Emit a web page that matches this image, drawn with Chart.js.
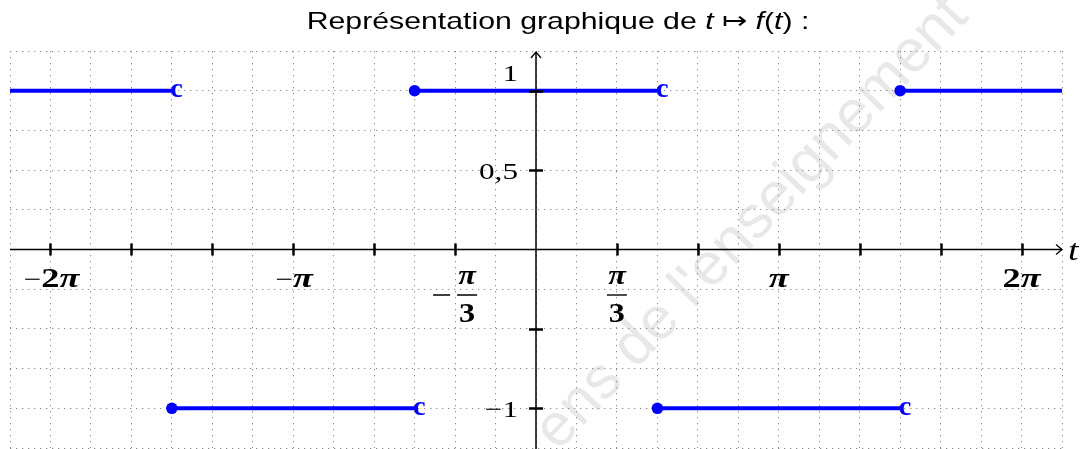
<!DOCTYPE html>
<html>
<head>
<meta charset="utf-8">
<script src="https://cdn.jsdelivr.net/npm/chart.js@4/dist/chart.umd.min.js"></script>
<style>
  html, body { margin: 0; padding: 0; background: #ffffff; }
  #wrap { width: 1083px; height: 449px; }
</style>
</head>
<body>
<div id="wrap"><canvas id="c" width="1083" height="449"></canvas></div>
<script>
const PI = Math.PI;

// ---- data (x values expressed in multiples of π) ----
const segStartPi = [-13/6, -3/2, -1/2, 1/2, 3/2];
const segEndPi   = [-3/2, -1/2, 1/2, 3/2, 13/6];
const segValue   = [1, -1, 1, -1, 1];
const startClosed = [false, true, true, true, true];
const endOpen     = [true, true, true, true, false];

// axis range / grid (multiples of π for x)
const xMinPi = -13/6, xMaxPi = 13/6, xGridStepPi = 1/6;
const yMin = -1.25, yMax = 1.25, yGridStep = 0.25;

// axis ticks
const xTickPi = [-2, -5/3, -4/3, -1, -2/3, -1/3, 1/3, 2/3, 1, 4/3, 5/3, 2];
const xLabelPi   = [-2, -1, -1/3, 1/3, 1, 2];
const xLabelText = ['−2π', '−π', '−π/3', 'π/3', 'π', '2π'];
const yTickVals  = [1, 0.5, -0.5, -1];
const yLabelVals = [1, 0.5, -1];
const yLabelText = ['1', '0,5', '−1'];

const titleRuns = [
  ['Représentation graphique de ', false], ['t', true], [' ↦ ', false],
  ['f', true], ['(', false], ['t', true], [')', false], [' :', false]
];
const watermarkText = "ens de l'enseignement";

const BLUE = '#0000ff';
const STRETCH = 1.28;
const F_REG = '24px "Liberation Serif"';
const F_BOLD = 'bold 28px "Liberation Serif"';
const F_BOLDIT = 'bold italic 28px "Liberation Serif"';

function drawRuns(ctx, runs, x, y, align, k) {
  k = k || STRETCH;
  let w = 0;
  runs.forEach(r => { ctx.font = r.f; w += ctx.measureText(r.t).width * k; });
  let sx = align === 'center' ? x - w / 2 : (align === 'right' ? x - w : x);
  ctx.textAlign = 'left';
  ctx.textBaseline = 'alphabetic';
  runs.forEach(r => {
    ctx.font = r.f;
    ctx.save();
    ctx.translate(sx, y);
    ctx.scale(k, 1);
    ctx.fillText(r.t, 0, 0);
    ctx.restore();
    sx += ctx.measureText(r.t).width * k;
  });
}

function gridTicks(min, max, step) {
  const out = [];
  const n = Math.round((max - min) / step);
  for (let k = 0; k <= n; k++) out.push({ value: min + k * step });
  return out;
}

const datasets = segValue.map((v, i) => ({
  data: [{ x: segStartPi[i] * PI, y: v }, { x: segEndPi[i] * PI, y: v }],
  borderColor: BLUE,
  backgroundColor: BLUE,
  borderWidth: 4,
  borderCapStyle: 'butt',
  pointRadius: [startClosed[i] ? 5.8 : 0, 0],
  pointHoverRadius: 0,
  pointBorderWidth: 0,
  pointBackgroundColor: BLUE,
  fill: false,
  tension: 0
}));

const deco = {
  id: 'deco',
  beforeDraw(chart) {
    const ctx = chart.ctx;
    ctx.save();
    ctx.fillStyle = '#ffffff';
    ctx.fillRect(0, 0, chart.width, chart.height);
    // watermark
    ctx.translate(558, 452);
    ctx.rotate(-46.5 * PI / 180);
    ctx.font = '60px "Liberation Sans"';
    ctx.fillStyle = '#e8e8e8';
    ctx.textAlign = 'left';
    ctx.textBaseline = 'alphabetic';
    ctx.fillText(watermarkText, 0, 0);
    ctx.restore();
  },
  afterDatasetsDraw(chart) {
    const ctx = chart.ctx;
    const xs = chart.scales.x, ys = chart.scales.y;
    const area = chart.chartArea;
    const x0 = xs.getPixelForValue(0), y0 = ys.getPixelForValue(0);
    ctx.save();

    // open endpoints "c"
    ctx.fillStyle = BLUE;
    segValue.forEach((v, i) => {
      if (!endOpen[i]) return;
      const px = xs.getPixelForValue(segEndPi[i] * PI);
      const py = ys.getPixelForValue(v);
      drawRuns(ctx, [{ t: 'c', f: 'bold 27px "Liberation Serif"' }], px - 1.5, py + 6.5, 'left', 1.05);
    });

    // axes
    ctx.strokeStyle = '#000';
    ctx.fillStyle = '#000';
    ctx.lineWidth = 1.5;
    ctx.beginPath();
    ctx.moveTo(area.left, y0); ctx.lineTo(area.right, y0);
    ctx.moveTo(x0, chart.height); ctx.lineTo(x0, area.top + 1);
    ctx.stroke();
    // arrowheads
    ctx.lineWidth = 1.3;
    ctx.beginPath();
    ctx.moveTo(area.right - 6, y0 - 5); ctx.lineTo(area.right, y0); ctx.lineTo(area.right - 6, y0 + 5);
    ctx.moveTo(x0 - 5, area.top + 7); ctx.lineTo(x0, area.top + 1); ctx.lineTo(x0 + 5, area.top + 7);
    ctx.stroke();

    // ticks
    ctx.lineWidth = 2.5;
    ctx.beginPath();
    xTickPi.forEach(k => {
      const px = Math.round(xs.getPixelForValue(k * PI)) + 0.5;
      ctx.moveTo(px, y0 - 6); ctx.lineTo(px, y0 + 6);
    });
    yTickVals.forEach(v => {
      const py = Math.round(ys.getPixelForValue(v)) + 0.5;
      ctx.moveTo(x0 - 7, py); ctx.lineTo(x0 + 7, py);
    });
    ctx.stroke();

    // x labels
    const base = y0 + 37;
    xLabelPi.forEach((k, i) => {
      const px = xs.getPixelForValue(k * PI);
      const txt = xLabelText[i];
      if (txt.indexOf('/') >= 0) {
        const neg = txt[0] === '−';
        const fx = neg ? px + 12 : px;
        drawRuns(ctx, [{ t: 'π', f: F_BOLDIT }], fx, y0 + 34, 'center', 1.15);
        ctx.lineWidth = 1.4;
        ctx.beginPath();
        ctx.moveTo(fx - 10, y0 + 45.5); ctx.lineTo(fx + 10, y0 + 45.5);
        if (neg) { ctx.moveTo(px - 22, y0 + 45.5); ctx.lineTo(px - 5, y0 + 45.5); }
        ctx.stroke();
        drawRuns(ctx, [{ t: '3', f: F_BOLD }], fx, y0 + 72, 'center', 1.15);
      } else {
        const runs = [];
        for (const ch of txt) {
          if (ch === '−') runs.push({ t: '−', f: F_REG });
          else if (ch === 'π') runs.push({ t: 'π', f: F_BOLDIT });
          else runs.push({ t: ch, f: F_BOLD });
        }
        drawRuns(ctx, runs, px + (k < 0 ? 1 : 0), base, 'center', 1.3);
      }
    });

    // y labels
    yLabelVals.forEach((v, i) => {
      const py = ys.getPixelForValue(v);
      const by = v === 1 ? py - 10 : py + 8.5;
      drawRuns(ctx, [{ t: yLabelText[i], f: F_REG }], x0 - 18, by, 'right', 1.3);
    });

    // axis name
    drawRuns(ctx, [{ t: 't', f: 'italic 29px "Liberation Serif"' }], area.right + 6, y0 + 10, 'left', 1.3);

    // title
    const truns = titleRuns.map(r => ({ t: r[0], f: (r[1] ? 'italic ' : '') + '24px "Liberation Sans"' }));
    drawRuns(ctx, truns, 558, 29, 'center', 1.26);

    ctx.restore();
  }
};

new Chart(document.getElementById('c'), {
  type: 'line',
  data: { datasets },
  plugins: [deco],
  options: {
    responsive: false,
    animation: false,
    devicePixelRatio: 1,
    events: [],
    layout: { autoPadding: false, padding: { left: 10, right: 21, top: 51, bottom: 1 } },
    plugins: { legend: { display: false }, tooltip: { enabled: false }, title: { display: false } },
    scales: {
      x: {
        type: 'linear',
        min: xMinPi * PI,
        max: xMaxPi * PI,
        afterBuildTicks: s => { s.ticks = gridTicks(xMinPi * PI, xMaxPi * PI, xGridStepPi * PI); },
        afterFit: s => { s.height = 0; },
        ticks: { display: false },
        grid: { color: '#8c8c8c', lineWidth: 1, drawTicks: false },
        border: { display: false, dash: [1.3, 4.7] }
      },
      y: {
        type: 'linear',
        min: yMin,
        max: yMax,
        afterBuildTicks: s => { s.ticks = gridTicks(yMin, yMax, yGridStep); },
        afterFit: s => { s.width = 0; },
        ticks: { display: false },
        grid: { color: '#8c8c8c', lineWidth: 1, drawTicks: false },
        border: { display: false, dash: [1.3, 4.7] }
      }
    }
  }
});
</script>
</body>
</html>
